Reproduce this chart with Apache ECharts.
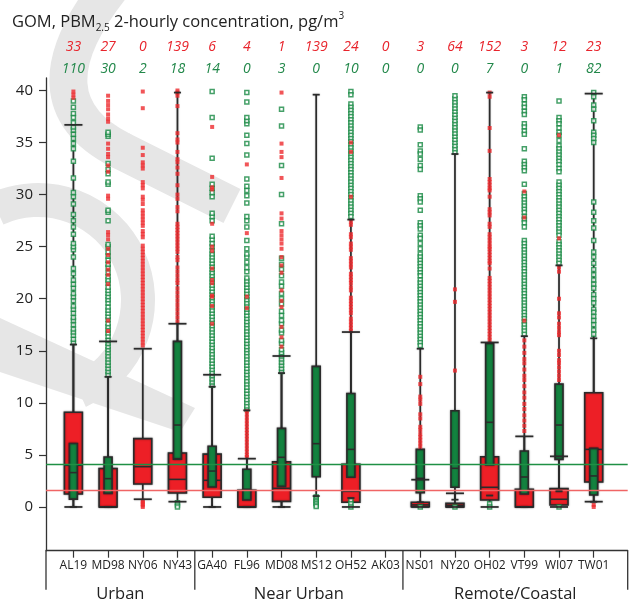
<!DOCTYPE html>
<html>
<head>
<meta charset="utf-8">
<script src="https://cdn.jsdelivr.net/npm/echarts@6/dist/echarts.min.js"></script>
<style>
  html, body { margin: 0; padding: 0; background: #fff; }
  #chart { width: 630px; height: 604px; }
</style>
</head>
<body>
<div id="chart"></div>
<script>
// Monitoring sites, in plotting order, and the site groups they belong to
const sites = ['AL19', 'MD98', 'NY06', 'NY43', 'GA40', 'FL96', 'MD08', 'MS12',
               'OH52', 'AK03', 'NS01', 'NY20', 'OH02', 'VT99', 'WI07', 'TW01'];
const groupNames = ['Urban', 'Near Urban', 'Remote/Coastal'];
const groupSizes = [4, 6, 6];

// Number of 2-hourly values above 40 pg/m3 (printed above each site)
const pbmAbove40 = [33, 27, 0, 139, 6, 4, 1, 139, 24, 0, 3, 64, 152, 3, 12, 23];
const gomAbove40 = [110, 30, 2, 18, 14, 0, 3, 0, 10, 0, 0, 0, 7, 0, 1, 82];

// PBM2.5 box statistics: [lower whisker, Q1, median, Q3, upper whisker]
const pbmStats = [
  [0, 1.25, 4.0, 9.1, 36.7],
  [0, 0, 0, 3.7, 15.9],
  [0.74, 2.2, 3.87, 6.56, 15.2],
  [0.51, 1.34, 2.65, 5.18, 17.6],
  [0, 0.93, 2.56, 5.08, 12.7],
  [0, 0, 0, 1.6, 4.64],
  [0, 0.54, 1.79, 4.35, 14.5],
  null,
  [0, 0.45, 1.5, 4.1, 16.8],
  null,
  [0, 0.02, 0.2, 0.45, 2.62],
  [0, 0, 0.15, 0.35, 1.31],
  [0, 0.67, 1.89, 4.83, 15.8],
  [0, 0, 0, 1.7, 6.78],
  [0, 0.19, 0.74, 1.76, 4.86],
  [0.51, 2.4, 5.53, 10.97, 39.7]
];

// GOM box statistics: [lower whisker, Q1, median, Q3, upper whisker]
const gomStats = [
  [0, 0.75, 3.3, 6.1, 15.6],
  [0, 1.31, 2.72, 4.8, 12.5],
  null,
  [4.6, 4.6, 7.87, 15.9, 39.8],
  [0, 1.92, 3.45, 5.83, 11.55],
  [0, 0.67, 1.7, 3.62, 9.28],
  [0, 1.98, 4.77, 7.55, 12.86],
  [1.05, 2.9, 6.08, 13.5, 39.6],
  [0.86, 2.85, 5.53, 10.9, 27.6],
  null,
  [0.45, 1.37, 2.75, 5.53, 15.2],
  [0.7, 1.89, 3.71, 9.24, 33.9],
  [1.1, 4.03, 8.13, 15.7, 39.8],
  [0, 1.25, 2.88, 5.37, 16.4],
  [1.5, 4.57, 7.87, 11.8, 23.2],
  [0.5, 1.15, 2.98, 5.63, 16.2]
];

// Individual PBM2.5 values outside the whiskers (up to 40 pg/m3)
const pbmOutliers = [
  [39.3, 39.6, 39.9],
  [39.5, 39.0, 38.6, 38.2, 37.7, 37.3, 37.0, 34.9, 34.4, 33.9, 33.6, 32.8, 32.2, 29.9, 29.6,
   26.4, 26.1, 25.7, 24.8, 24.2, 23.5, 22.8, 22.3, 21.4, 17.9, 16.9],
  [39.9, 38.3, 34.5, 33.8, 33.1, 32.8, 32.5, 31.2, 30.9, 30.6, 29.8, 29.5, 29.1, 28.5, 28.2,
   27.9, 27.6, 27.3, 27.0, 26.5, 26.2, 25.9, 25.1, 24.8, 24.5, 24.2, 23.9, 23.6, 23.3, 23.0,
   22.7, 22.4, 22.1, 21.8, 21.5, 21.2, 20.9, 20.6, 20.3, 20.0, 19.7, 19.4, 19.1, 18.8, 18.5,
   18.2, 17.9, 17.6, 17.3, 17.0, 16.7, 16.4, 16.1, 15.8, 15.5, 0.6, 0.45, 0.3, 0.15, 0],
  [40.0, 39.8, 39.5, 38.5, 35.9, 35.3, 35.0, 34.1, 33.4, 33.1, 32.6, 32.0, 30.9, 30.0, 29.6,
   28.8, 28.4, 27.2, 26.9, 26.6, 26.3, 26.0, 25.7, 25.4, 25.1, 24.8, 24.5, 24.0, 23.7, 23.0,
   22.6, 22.2, 21.8, 21.5, 21.0, 20.6, 20.2, 19.8, 19.4, 19.0, 18.6, 18.2, 17.8],
  [36.5, 31.7, 30.7, 30.5, 27.2, 25.0, 24.6, 22.9, 21.8, 21.5, 20.3, 20.2, 19.3, 17.6],
  [32.9, 26.3, 20.2, 19.1, 9.2, 8.9, 8.6, 8.3, 8.0, 7.7, 7.4, 7.1, 6.8, 6.5, 6.2, 5.9, 5.6,
   5.3, 5.0, 4.8],
  [39.8, 34.9, 34.1, 33.6, 31.6, 28.2, 27.7, 26.5, 26.1, 25.7, 25.3, 24.8, 24.0, 23.2, 22.5,
   20.8, 19.8, 19.2, 17.3, 16.3, 15.4],
  [],
  [35.0, 34.1, 29.8, 27.4, 27.1, 26.2, 25.9, 25.3, 25.0, 24.7, 23.9, 23.6, 23.3, 23.0, 22.4,
   22.1, 21.8, 21.5, 21.1, 20.8, 20.1, 19.8, 19.5, 19.2, 18.9, 18.6, 18.1, 17.8, 17.5, 17.2, 16.9],
  [],
  [12.5, 11.8, 10.6, 10.3, 9.9, 8.9, 8.5, 7.7, 7.4, 7.0, 6.7, 6.4, 6.1, 5.8],
  [20.9, 19.7, 13.1],
  [39.8, 39.4, 36.4, 34.2, 31.5, 31.2, 30.9, 30.6, 30.4, 29.8, 28.6, 28.3, 28.0, 27.2, 26.9,
   26.2, 25.9, 25.6, 25.3, 25.0, 24.8, 24.5, 24.2, 23.9, 23.6, 23.4, 22.9, 22.0, 21.7, 21.4,
   21.1, 20.8, 20.5, 20.2, 19.9, 19.6, 19.3, 19.0, 18.7, 18.4, 18.1, 17.8, 17.5, 17.2, 16.9,
   16.6, 16.3, 16.0],
  [30.3, 27.8, 17.9, 16.0, 15.4, 14.8, 14.2, 13.8, 13.2, 12.6, 12.2, 11.6, 11.0, 10.5, 9.9,
   9.4, 8.8, 8.3, 7.8, 7.3],
  [35.7, 25.8, 23.0, 22.6, 20.0, 18.6, 18.2, 17.6, 17.2, 16.8, 16.5, 15.0, 14.6, 14.1, 13.8,
   13.4, 13.0, 12.6, 12.2],
  [0.2, 0]
];

// Individual GOM values outside the whiskers (up to 40 pg/m3)
const gomOutliers = [
  [15.8, 16.1, 16.5, 16.8, 17.1, 17.5, 17.9, 18.2, 18.6, 19.0, 19.3, 19.8, 20.2, 20.5, 21.0,
   21.4, 21.8, 22.4, 22.9, 24.0, 24.7, 25.0, 25.3, 26.2, 26.9, 27.5, 28.1, 29.1, 29.8, 30.2,
   31.6, 33.2, 34.4, 34.9, 35.4, 35.8, 36.2, 36.5, 36.9, 37.4, 37.8, 38.4, 39.0],
  [12.7, 13.0, 13.3, 13.6, 13.9, 14.2, 14.5, 14.8, 15.1, 15.4, 15.7, 16.0, 16.4, 16.7, 17.0,
   17.3, 17.6, 18.0, 18.3, 18.6, 18.9, 19.2, 19.6, 19.9, 20.2, 20.5, 20.8, 21.1, 21.5, 21.8,
   22.1, 22.5, 23.0, 23.3, 23.7, 24.1, 24.5, 25.0, 25.2, 27.5, 28.3, 28.5, 31.0, 31.2, 32.0,
   32.4, 33.0, 35.6, 35.8, 36.0],
  [],
  [0.4, 0.2, 0],
  [11.7, 12.0, 12.3, 12.6, 12.9, 13.2, 13.5, 13.8, 14.1, 14.4, 14.7, 15.0, 15.3, 15.6, 15.9,
   16.2, 16.5, 16.8, 17.1, 17.4, 17.7, 18.0, 18.3, 18.6, 18.9, 19.2, 19.5, 19.8, 20.1, 20.4,
   20.7, 21.0, 21.3, 21.6, 21.9, 22.2, 22.5, 22.8, 23.1, 23.4, 23.7, 24.0, 24.3, 24.6, 25.0,
   25.3, 25.7, 26.0, 27.5, 27.9, 28.2, 29.8, 30.2, 30.6, 31.0, 33.5, 37.4, 39.9],
  [9.4, 9.7, 10.0, 10.3, 10.6, 10.9, 11.2, 11.5, 11.8, 12.1, 12.4, 12.7, 13.0, 13.3, 13.6,
   13.9, 14.2, 14.5, 14.8, 15.1, 15.4, 15.7, 16.0, 16.3, 16.6, 16.9, 17.2, 17.5, 17.8, 18.1,
   18.4, 18.7, 19.0, 19.3, 19.6, 19.9, 20.2, 20.5, 20.8, 21.1, 21.4, 21.7, 22.0, 22.6, 23.0,
   23.5, 24.0, 24.3, 24.8, 25.6, 26.9, 27.5, 27.9, 29.2, 29.9, 30.4, 30.8, 31.5, 33.8, 34.9,
   35.7, 36.8, 37.1, 37.4, 38.9, 39.8],
  [13.0, 13.3, 13.6, 13.9, 14.2, 14.5, 14.8, 15.1, 15.7, 16.0, 16.7, 17.0, 17.6, 17.9, 18.4,
   18.8, 19.5, 20.0, 20.5, 21.2, 21.6, 22.2, 22.8, 23.3, 23.9, 27.2, 30.0, 32.8, 36.6, 38.2],
  [0.95, 0.8, 0.65, 0.5, 0.35, 0.2, 0.05],
  [39.9, 39.6, 38.7, 38.4, 38.1, 37.8, 37.5, 37.2, 36.9, 36.6, 36.3, 36.0, 35.7, 35.4, 35.1,
   34.8, 34.5, 34.2, 33.9, 33.6, 33.3, 33.0, 32.7, 32.4, 32.1, 31.8, 31.5, 31.2, 30.9, 30.6,
   30.3, 30.0, 29.7, 29.4, 29.1, 28.8, 28.5, 28.2, 27.9, 0.6, 0.3, 0],
  [],
  [36.5, 36.2, 34.8, 34.2, 33.9, 33.4, 32.8, 32.4, 29.9, 29.6, 29.3, 28.5, 27.3, 27.0, 26.7,
   26.1, 25.8, 25.3, 24.8, 24.3, 24.0, 23.7, 23.4, 23.1, 22.8, 22.5, 22.2, 21.8, 21.5, 21.2,
   20.9, 20.6, 20.3, 20.0, 19.7, 19.4, 19.1, 18.8, 18.5, 18.2, 17.9, 17.6, 17.3, 17.0, 16.7,
   16.4, 16.1, 15.8, 15.5, 0],
  [34.1, 34.4, 34.7, 35.0, 35.3, 35.6, 35.9, 36.2, 36.5, 36.8, 37.1, 37.4, 37.7, 38.0, 38.3,
   38.6, 38.9, 39.2, 39.5, 0],
  [0.3, 0],
  [39.4, 39.1, 38.7, 38.4, 38.0, 37.7, 36.8, 36.5, 36.1, 35.8, 34.4, 33.2, 32.9, 32.6, 32.3,
   31.0, 30.1, 29.8, 29.5, 29.2, 28.9, 28.6, 28.3, 27.9, 27.6, 27.3, 26.9, 25.6, 25.3, 25.0,
   24.7, 24.4, 24.1, 23.8, 23.5, 23.2, 22.9, 22.6, 22.3, 22.0, 21.7, 21.4, 21.1, 20.8, 20.5,
   20.2, 19.9, 19.6, 19.3, 19.0, 18.7, 18.4, 18.1, 17.8, 17.5, 17.2, 16.9, 16.6],
  [39.0, 37.4, 37.1, 36.8, 36.4, 36.0, 35.7, 35.2, 34.7, 34.4, 34.1, 33.8, 33.5, 33.2, 32.9,
   32.5, 32.2, 31.2, 30.9, 30.6, 30.3, 30.0, 29.7, 29.4, 29.1, 28.8, 28.5, 28.2, 27.9, 27.6,
   27.3, 27.0, 26.7, 26.4, 26.1, 25.5, 25.2, 24.9, 24.6, 24.3, 24.0, 23.7, 23.4, 0],
  [39.8, 39.4, 38.6, 38.2, 37.1, 36.0, 35.7, 35.4, 35.0, 29.3, 28.3, 27.5, 26.8, 25.6, 24.5,
   24.0, 23.4, 22.8, 22.3, 21.8, 21.4, 21.0, 20.4, 20.0, 19.6, 19.0, 18.7, 18.3, 17.9, 17.5,
   17.0, 16.6]
];

// Reference levels drawn across the whole plot
const gomReference = 4.13;
const pbmReference = 1.63;

// Axis ticks
const yTicks = [0, 5, 10, 15, 20, 25, 30, 35, 40];
const yMin = -4.2, yMax = 41.2;
const xMin = -0.79, xMax = 15.98;

const RED = '#ed1f26';
const GREEN = '#13823f';
const RED_PT = '#ee2a2e';
const GREEN_PT = '#178842';
const EDGE = '#2b2b2b';
const MARK_GREY = '#e6e6e6';
const FONT = '"Open Sans", "Liberation Sans", sans-serif';

// ---- Build series data from the arrays above ----
function statRows(stats) {
  const rows = [];
  stats.forEach((s, i) => { if (s) rows.push([i].concat(s)); });
  return rows;
}
function pointRows(lists) {
  const rows = [];
  lists.forEach((vals, i) => vals.forEach(v => rows.push([i, v])));
  return rows;
}
const pbmRows = statRows(pbmStats);
const gomRows = statRows(gomStats);

const boxDims = ['x', 'lo', 'q1', 'med', 'q3', 'hi'];
const boxEncode = { x: 0, y: [1, 2, 3, 4, 5] };

// whisker stem from lower to upper whisker
function renderStem(params, api) {
  const x = api.value(0);
  const a = api.coord([x, api.value(1)]);
  const b = api.coord([x, api.value(5)]);
  return {
    type: 'line',
    shape: { x1: a[0], y1: a[1], x2: b[0], y2: b[1] },
    style: { stroke: EDGE, lineWidth: 1.7, shadowBlur: 1.5, shadowColor: 'rgba(0,0,0,0.35)' }
  };
}

function boxRenderer(fill, width) {
  return function (params, api) {
    const x = api.value(0);
    const q1 = api.coord([x, api.value(2)]);
    const med = api.coord([x, api.value(3)]);
    const q3 = api.coord([x, api.value(4)]);
    const half = width / 2;
    return {
      type: 'group',
      children: [
        {
          type: 'rect',
          shape: { x: q3[0] - half, y: q3[1], width: width, height: Math.max(q1[1] - q3[1], 0.5) },
          style: { fill: fill, stroke: EDGE, lineWidth: 1.6, shadowBlur: 2, shadowColor: 'rgba(0,0,0,0.4)' }
        },
        {
          type: 'line',
          shape: { x1: med[0] - half, y1: med[1], x2: med[0] + half, y2: med[1] },
          style: { stroke: EDGE, lineWidth: 1.6 }
        }
      ]
    };
  };
}

function capRenderer(width) {
  return function (params, api) {
    const x = api.value(0);
    const lo = api.coord([x, api.value(1)]);
    const hi = api.coord([x, api.value(5)]);
    const half = width / 2;
    const st = { stroke: EDGE, lineWidth: 1.7, shadowBlur: 1.5, shadowColor: 'rgba(0,0,0,0.35)' };
    return {
      type: 'group',
      children: [
        { type: 'line', shape: { x1: lo[0] - half, y1: lo[1], x2: lo[0] + half, y2: lo[1] }, style: st },
        { type: 'line', shape: { x1: hi[0] - half, y1: hi[1], x2: hi[0] + half, y2: hi[1] }, style: st }
      ]
    };
  };
}

const chart = echarts.init(document.getElementById('chart'), null, { renderer: 'canvas' });

const siteIdx = sites.map((s, i) => i);

const option = {
  animation: false,
  backgroundColor: '#fff',
  textStyle: { fontFamily: FONT },
  grid: { left: 46, right: 2.3, top: 78, bottom: 53.3 },
  xAxis: {
    type: 'value', min: xMin, max: xMax,
    splitLine: { show: false },
    axisLine: { show: true, onZero: false, lineStyle: { color: '#333', width: 1.3 } },
    axisTick: { show: true, customValues: siteIdx, length: 7, lineStyle: { color: '#333', width: 1.2 } },
    axisLabel: {
      customValues: siteIdx, margin: 9, fontSize: 12, color: '#222', fontFamily: FONT,
      formatter: v => sites[Math.round(v)]
    }
  },
  yAxis: {
    type: 'value', min: yMin, max: yMax,
    splitLine: { show: false },
    axisLine: { show: true, onZero: false, lineStyle: { color: '#333', width: 1.3 } },
    axisTick: { show: true, customValues: yTicks, length: 7, lineStyle: { color: '#333', width: 1.2 } },
    axisLabel: { customValues: yTicks, margin: 13, fontSize: 15, color: '#222', fontFamily: FONT }
  },
  series: [
    {
      name: 'stems', type: 'custom', dimensions: boxDims, encode: boxEncode,
      data: pbmRows.concat(gomRows), renderItem: renderStem, z: 2,
      markLine: {
        silent: true, symbol: 'none', label: { show: false },
        data: [
          { yAxis: gomReference, lineStyle: { color: '#1f9044', width: 1.3, type: 'solid' } },
          { yAxis: pbmReference, lineStyle: { color: '#f06565', width: 1.3, type: 'solid' } }
        ]
      }
    },
    { name: 'PBM2.5 box', type: 'custom', dimensions: boxDims, encode: boxEncode,
      data: pbmRows, renderItem: boxRenderer(RED, 18), z: 3 },
    { name: 'GOM box', type: 'custom', dimensions: boxDims, encode: boxEncode,
      data: gomRows, renderItem: boxRenderer(GREEN, 8), z: 4 },
    {
      name: 'GOM points', type: 'scatter', data: pointRows(gomOutliers), z: 5,
      symbol: 'rect', symbolSize: 4,
      itemStyle: { color: '#ffffff', borderColor: GREEN_PT, borderWidth: 1.5 }
    },
    {
      name: 'PBM2.5 points', type: 'scatter', data: pointRows(pbmOutliers), z: 6,
      symbol: 'rect', symbolSize: 4,
      itemStyle: { color: RED_PT }
    },
    { name: 'PBM2.5 caps', type: 'custom', dimensions: boxDims, encode: boxEncode,
      data: pbmRows, renderItem: capRenderer(18), z: 7 },
    { name: 'GOM caps', type: 'custom', dimensions: boxDims, encode: boxEncode,
      data: gomRows, renderItem: capRenderer(7), z: 7 }
  ]
};

chart.setOption(option);

// ---- Annotations placed through the axis scales ----
const px = v => chart.convertToPixel({ xAxisIndex: 0 }, v);
const axisY = chart.convertToPixel({ yAxisIndex: 0 }, yMin);
const graphics = [];

// faint grey background emblem behind the plot
graphics.push({
  type: 'bezierCurve', z: -10, silent: true,
  shape: { x1: 110, y1: -12, cpx1: 22, cpy1: 100, x2: 120, y2: 150 },
  style: { stroke: MARK_GREY, lineWidth: 38, fill: null, lineCap: 'round' }
});
graphics.push({
  type: 'line', z: -10, silent: true,
  shape: { x1: 120, y1: 150, x2: 232, y2: 206 },
  style: { stroke: MARK_GREY, lineWidth: 38, lineCap: 'butt' }
});
graphics.push({
  type: 'arc', z: -10, silent: true,
  shape: { cx: 38, cy: 300, r: 100, startAngle: -2.0, endAngle: 1.15, clockwise: true },
  style: { stroke: MARK_GREY, lineWidth: 34, fill: null }
});
graphics.push({
  type: 'polygon', z: -10, silent: true,
  shape: { points: [[0, 318], [195, 408], [180, 432], [0, 372]] },
  style: { fill: MARK_GREY }
});

graphics.push({
  type: 'text', left: 12, top: 11,
  style: {
    text: '{a|GOM, PBM}{sub|2.5}{a| 2-hourly concentration, pg/m}{sup|3}',
    rich: {
      a: { fontSize: 16.5, fontFamily: FONT, fill: '#222', lineHeight: 22, verticalAlign: 'middle' },
      sub: { fontSize: 10, fontFamily: FONT, fill: '#222', lineHeight: 10, verticalAlign: 'bottom' },
      sup: { fontSize: 10, fontFamily: FONT, fill: '#222', lineHeight: 10, verticalAlign: 'top' }
    }
  }
});

sites.forEach((s, i) => {
  const x = px(i);
  graphics.push({
    type: 'text', x: x, y: 47,
    style: { text: String(pbmAbove40[i]), fill: '#e8242c', fontSize: 14, fontStyle: 'italic',
             fontFamily: FONT, align: 'center', verticalAlign: 'middle' }
  });
  graphics.push({
    type: 'text', x: x, y: 69,
    style: { text: String(gomAbove40[i]), fill: '#22884a', fontSize: 14, fontStyle: 'italic',
             fontFamily: FONT, align: 'center', verticalAlign: 'middle' }
  });
});

// group separators and group labels under the site names
const bounds = [xMin];
let acc = 0;
groupSizes.forEach((n, g) => {
  acc += n;
  bounds.push(g === groupSizes.length - 1 ? xMax : acc - 0.5);
});
bounds.forEach(b => {
  const x = px(b);
  graphics.push({
    type: 'line', shape: { x1: x, y1: axisY, x2: x, y2: axisY + 39 },
    style: { stroke: '#333', lineWidth: 1.3 }
  });
});
groupNames.forEach((name, g) => {
  const x = (px(bounds[g]) + px(bounds[g + 1])) / 2;
  graphics.push({
    type: 'text', x: x, y: axisY + 44,
    style: { text: name, fill: '#222', fontSize: 16.5, fontFamily: FONT, align: 'center', verticalAlign: 'middle' }
  });
});

chart.setOption({ graphic: graphics });
</script>
</body>
</html>
